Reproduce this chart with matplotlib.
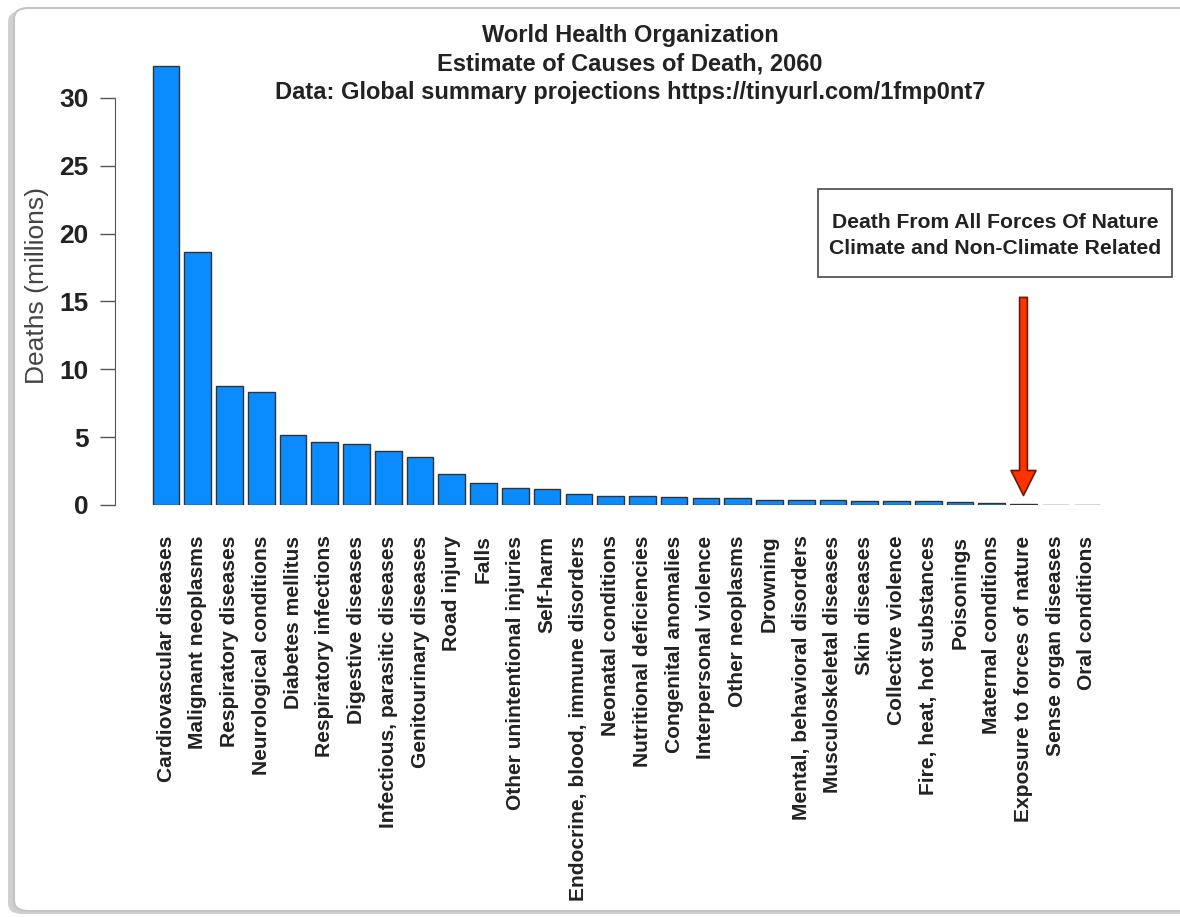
import matplotlib
matplotlib.use("Agg")
import matplotlib.pyplot as plt
from matplotlib.patches import FancyBboxPatch, Rectangle

plt.rcParams['font.family'] = ['Liberation Sans', 'DejaVu Sans']

# WHO projected causes of death, 2060 (millions)
causes = [
    "Cardiovascular diseases", "Malignant neoplasms", "Respiratory diseases",
    "Neurological conditions", "Diabetes mellitus", "Respiratory infections",
    "Digestive diseases", "Infectious, parasitic diseases", "Genitourinary diseases",
    "Road injury", "Falls", "Other unintentional injuries", "Self-harm",
    "Endocrine, blood, immune disorders", "Neonatal conditions",
    "Nutritional deficiencies", "Congenital anomalies", "Interpersonal violence",
    "Other neoplasms", "Drowning", "Mental, behavioral disorders",
    "Musculoskeletal diseases", "Skin diseases", "Collective violence",
    "Fire, heat, hot substances", "Poisonings", "Maternal conditions",
    "Exposure to forces of nature", "Sense organ diseases", "Oral conditions",
]
deaths = [
    32.35, 18.65, 8.77, 8.33, 5.16, 4.64, 4.50, 3.98, 3.54, 2.28, 1.62, 1.25,
    1.18, 0.81, 0.68, 0.66, 0.59, 0.53, 0.50, 0.38, 0.37, 0.35, 0.31, 0.30,
    0.28, 0.20, 0.18, 0.10, 0.02, 0.01,
]
yticks = [0, 5, 10, 15, 20, 25, 30]

title_lines = [
    "World Health Organization",
    "Estimate of Causes of Death, 2060",
    "Data: Global summary projections https://tinyurl.com/1fmp0nt7",
]
box_lines = ["Death From All Forces Of Nature", "Climate and Non-Climate Related"]
highlight = "Exposure to forces of nature"

W, H = 1180, 917
fig = plt.figure(figsize=(W / 100, H / 100), dpi=100)

# screenshot-like rounded frame with soft shadow
shadow = FancyBboxPatch((8 / W, 3 / H), 1.2, 1 - 14 / H,
                        boxstyle="round,pad=0,rounding_size=0.012",
                        transform=fig.transFigure, fc="#d0d0d0", ec="none", zorder=-3)
frame = FancyBboxPatch((14 / W, 6 / H), 1.2, 1 - 14 / H,
                       boxstyle="round,pad=0,rounding_size=0.012",
                       transform=fig.transFigure, fc="white", ec="#c4c4c4", lw=1.5, zorder=-2)
fig.patches.extend([shadow, frame])

# axes placed in pixel terms
ax_l, ax_r, ax_b, ax_t = 140, 1110, 505, 57
ax = fig.add_axes([ax_l / W, 1 - ax_b / H, (ax_r - ax_l) / W, (ax_b - ax_t) / H])
ax.patch.set_alpha(0)

x = list(range(len(causes)))
ax.bar(x, deaths, width=0.84, color="#0a8cff", edgecolor="#333333", linewidth=1.0)

step = (1087 - 166) / (len(causes) - 1)
ax.set_xlim(-(166 - ax_l) / step, len(causes) - 1 + (ax_r - 1087) / step)
ax.set_ylim(0, (ax_b - ax_t) / 13.57)

for s in ["top", "right", "bottom"]:
    ax.spines[s].set_visible(False)
ax.spines["left"].set_position(("outward", 18))
ax.spines["left"].set_bounds(0, 30)
ax.spines["left"].set_color("#555555")
ax.set_yticks(yticks)
ax.tick_params(axis="y", length=11, width=1, color="#555555", labelsize=19, pad=8,
               labelcolor="#222222")
for t in ax.get_yticklabels():
    t.set_fontweight("bold")

ax.set_xticks(x)
ax.set_xticklabels(causes, rotation=90, fontsize=15.1, fontweight="bold", color="#222222")
ax.tick_params(axis="x", length=0, pad=22)

fig.text(37 / W, 1 - 285 / H, "Deaths (millions)", rotation=90, ha="center", va="center",
         fontsize=19, color="#444444")

for i, line in enumerate(title_lines):
    fig.text(630 / W, 1 - (42 + 28.5 * i) / H, line, ha="center", va="baseline",
             fontsize=17, fontweight="bold", color="#222222")

# annotation box
bx0, by0, bx1, by1 = 818, 189, 1172, 277
fig.patches.append(Rectangle((bx0 / W, 1 - by1 / H), (bx1 - bx0) / W, (by1 - by0) / H,
                             transform=fig.transFigure, fill=False, ec="#555555", lw=1.3))
for i, line in enumerate(box_lines):
    fig.text((bx0 + bx1) / 2 / W, 1 - (223 + 25 * i) / H, line, ha="center", va="center",
             fontsize=15.2, fontweight="bold", color="#222222")

hi = causes.index(highlight)
ax.annotate("", xy=(hi, 0.7), xytext=(hi, 15.3),
            arrowprops=dict(arrowstyle="simple,head_length=0.9,head_width=0.9,tail_width=0.28",
                            mutation_scale=20, fc="#ff3300", ec="#6a1a05", lw=1.2,
                            shrinkA=0, shrinkB=0))

fig.savefig("out.png", dpi=100, facecolor="white")
